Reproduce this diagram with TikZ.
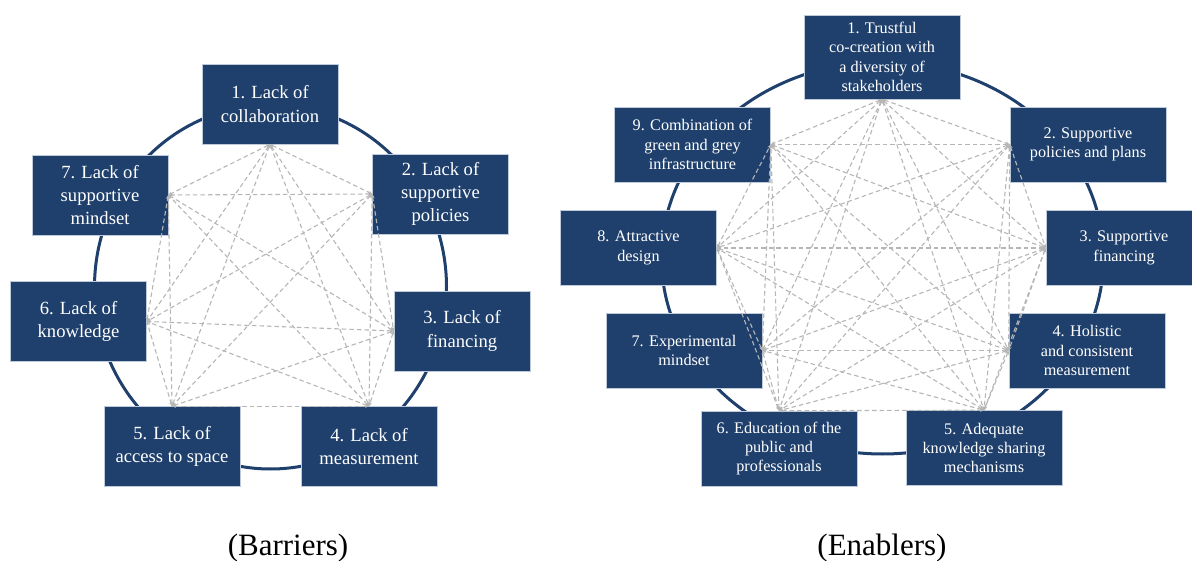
\documentclass[tikz,border=0pt]{standalone}
\usepackage{fontspec}
\setmainfont{Liberation Serif}
\usetikzlibrary{arrows.meta}

\definecolor{navy}{RGB}{31,64,108}
\definecolor{boxedge}{RGB}{190,202,218}
\definecolor{linkgray}{RGB}{182,182,182}

\begin{document}
\begin{tikzpicture}[x=1pt,y=-1pt,
  ring/.style={draw=navy,line width=3pt},
  lbox/.style={fill=navy,draw=boxedge,line width=0.6pt,text=white,align=center,
    minimum width=136pt,minimum height=80pt,inner sep=0pt,
    font=\fontsize{18.6}{23.3}\selectfont},
  rbox/.style={fill=navy,draw=boxedge,line width=0.6pt,text=white,align=center,
    minimum width=156pt,minimum height=75pt,inner sep=0pt,
    font=\fontsize{16.2}{19.4}\selectfont},
  link/.style={draw=linkgray,line width=1.1pt,dash pattern=on 4.5pt off 3pt,
    {Stealth[length=4pt,width=3.5pt]}-{Stealth[length=4pt,width=3.5pt]}},
  caption/.style={anchor=base,font=\fontsize{31}{36}\selectfont}]

\useasboundingbox (0,0) rectangle (1192,561);

% ---------- rings ----------
\draw[ring] (270.5,287) ellipse [x radius=176, y radius=182];
\draw[ring] (882.5,258) ellipse [x radius=221, y radius=196];

% ---------- barriers ----------
\node[lbox] (L1) at (270,104)   {1. Lack of\\collaboration};
\node[lbox] (L2) at (440.5,194) {2. Lack of\\supportive\\policies};
\node[lbox] (L3) at (462,331)   {3. Lack of\\financing};
\node[lbox] (L4) at (369,446.5) {4. Lack of\\measurement};
\node[lbox] (L5) at (172,446.5) {5. Lack of\\access to space};
\node[lbox] (L6) at (78.5,321.5){6. Lack of\\knowledge};
\node[lbox] (L7) at (100,195)   {7. Lack of\\supportive\\mindset};

\coordinate (Lp1) at (L1.south);
\coordinate (Lp2) at (L2.west);
\coordinate (Lp3) at (L3.west);
\coordinate (Lp4) at (L4.north);
\coordinate (Lp5) at (L5.north);
\coordinate (Lp6) at (L6.east);
\coordinate (Lp7) at (L7.east);

\foreach \i in {1,...,6}{
  \pgfmathtruncatemacro\k{\i+1}
  \foreach \j in {\k,...,7}{
    \draw[link] (Lp\i) -- (Lp\j);
  }
}

% ---------- enablers ----------
\node[rbox,minimum height=84pt] (R1) at (882,57)
  {1. Trustful\\co-creation with\\a diversity of\\stakeholders};
\node[rbox] (R2) at (1088,144.5) {2. Supportive\\policies and plans};
\node[rbox] (R3) at (1124,248)   {3. Supportive\\financing};
\node[rbox] (R4) at (1087,350.5) {4. Holistic\\and consistent\\measurement};
\node[rbox] (R5) at (984,448)    {5. Adequate\\knowledge sharing\\mechanisms};
\node[rbox] (R6) at (779,448.5)  {6. Education of the\\public and\\professionals};
\node[rbox] (R7) at (684,350.5)  {7. Experimental\\mindset};
\node[rbox] (R8) at (638.5,248)  {8. Attractive\\design};
\node[rbox] (R9) at (692.5,144.5){9. Combination of\\green and grey\\infrastructure};

\coordinate (Rp1) at (R1.south);
\coordinate (Rp2) at (R2.west);
\coordinate (Rp3) at (R3.west);
\coordinate (Rp4) at (R4.west);
\coordinate (Rp5) at (R5.north);
\coordinate (Rp6) at (R6.north);
\coordinate (Rp7) at (R7.east);
\coordinate (Rp8) at (R8.east);
\coordinate (Rp9) at (R9.east);

\foreach \i in {1,...,8}{
  \pgfmathtruncatemacro\k{\i+1}
  \foreach \j in {\k,...,9}{
    \draw[link] (Rp\i) -- (Rp\j);
  }
}

% ---------- captions ----------
\node[caption] (capL) at (288,555) {(Barriers)};
\node[caption] (capR) at (882,555) {(Enablers)};

\end{tikzpicture}
\end{document}
